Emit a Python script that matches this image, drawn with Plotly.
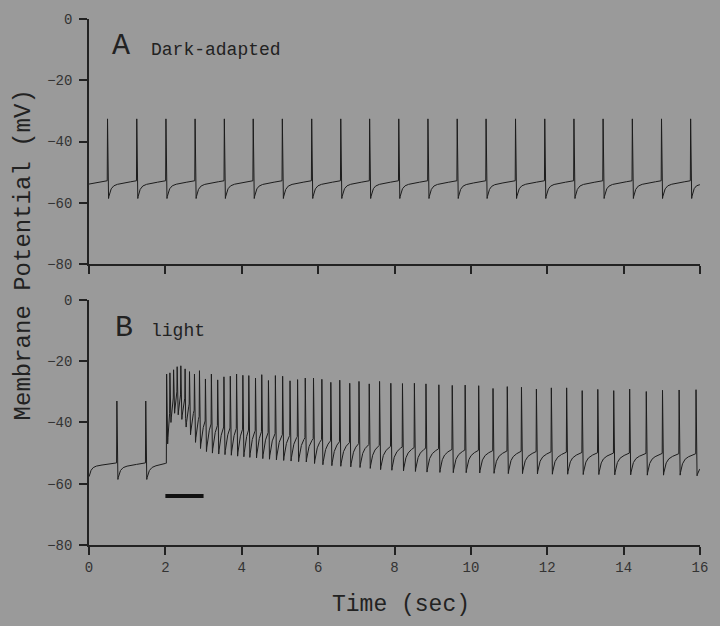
import numpy as np
import plotly.graph_objects as go

# ---------------- data ----------------
# Panel A (dark-adapted): spike times (s), peak (mV), trough (mV), pre-spike level (mV)
spike_t_A = [0.477, 1.243, 2.007, 2.770, 3.536, 4.292, 5.055, 5.824, 6.585, 7.341,
             8.104, 8.868, 9.634, 10.390, 11.161, 11.927, 12.691, 13.454, 14.220,
             14.984, 15.747]
peak_A = [-32.6] * 21
trough_A = [-58.6] * 21
thresh_A = [-52.8] * 21
start_A = [-0.26, -58.6]      # previous trough time/value before the record start

# Panel B (light)
spike_t_B = [0.722, 1.478,
             2.025, 2.111, 2.207, 2.301, 2.397, 2.509, 2.624, 2.754, 2.885, 3.041,
             3.197, 3.362, 3.526, 3.692, 3.857, 4.021, 4.177, 4.352,
             4.516, 4.691, 4.873, 5.063, 5.256, 5.454,
             5.655, 5.871, 6.090, 6.325, 6.559, 6.820, 7.062, 7.330, 7.601, 7.896,
             8.201, 8.513, 8.816, 9.154, 9.504, 9.842, 10.197, 10.572, 10.945,
             11.317, 11.708, 12.099, 12.500, 12.907, 13.316, 13.733, 14.150,
             14.585, 15.010, 15.445, 15.888]
peak_B = [-33.0, -33.0,
          -24.2, -23.8, -22.8, -21.8, -21.5, -22.5, -23.4, -24.2, -23.1, -25.8,
          -24.2, -26.1, -25.1, -24.9, -24.2, -24.6, -24.7, -25.5,
          -24.4, -26.3, -24.7, -24.9, -26.4, -26.0,
          -25.5, -25.5, -25.9, -26.9, -26.2, -27.2, -26.6, -27.4, -26.6, -27.2,
          -27.3, -27.2, -27.4, -27.7, -27.9, -27.8, -28.0, -28.9, -28.3, -28.5,
          -29.1, -28.7, -28.7, -29.6, -29.2, -29.6, -29.1, -29.9, -29.5, -29.4, -29.3]
trough_B = [-58.6, -58.6,
            -47.0, -40.0, -37.0, -37.5, -39.0, -41.5, -44.0, -46.5, -48.5, -49.5,
            -50.0, -50.3, -50.5, -50.7, -51.0, -51.2, -51.4, -51.6,
            -51.8, -52.0, -52.2, -52.4, -52.6, -52.8,
            -52.9, -53.4, -53.8, -54.1, -54.3, -54.5, -54.7, -55.0, -55.4, -55.6,
            -55.8, -56.0, -56.2, -56.3, -56.4, -56.4, -56.5, -56.6, -56.7, -56.7,
            -56.8, -56.9, -56.9, -57.0, -57.0, -57.1, -57.1, -57.2, -57.2, -57.2, -57.4]
thresh_B = [-53.2, -53.2,
            -53.3, -37.0, -32.0, -30.0, -31.0, -32.0, -34.0, -36.0, -38.0, -39.5,
            -40.5, -41.0, -41.5, -41.8, -42.0, -42.2, -42.5, -42.7,
            -43.0, -43.3, -43.6, -44.0, -44.3, -44.6,
            -45.0, -45.3, -45.6, -46.0, -46.3, -46.6, -46.9, -47.2, -47.5, -47.8,
            -48.0, -48.2, -48.4, -48.6, -48.8, -49.0, -49.1, -49.2, -49.3, -49.4,
            -49.5, -49.6, -49.7, -49.8, -49.9, -50.0, -50.0, -50.1, -50.1, -50.2, -50.2]
start_B = [0.0, -57.8]

end_level_A = -54.0
end_level_B = -54.4

# light stimulus bar
stim_t = [2.0, 3.0]
stim_v = [-64.0, -64.0]

x_ticks = [0, 2, 4, 6, 8, 10, 12, 14, 16]
y_ticks = [-80, -60, -40, -20, 0]


def trace(spk_t, peaks, troughs, thr, start, end_level, t_end=16.0):
    """Assemble membrane trace from the read spike parameters."""
    a, tau = 0.72, 0.055
    ts, vs = [], []

    def recovery(t0, v0, t1, v1):
        D = t1 - t0
        n = max(int(D / 0.002), 4)
        s = np.linspace(0, D, n + 1)[1:]
        f = a * (1 - np.exp(-s / tau)) / (1 - np.exp(-D / tau)) + (1 - a) * s / D
        return list(t0 + s), list(v0 + (v1 - v0) * f)

    prev_t, prev_v = start
    for i, t in enumerate(spk_t):
        rt, rv = recovery(prev_t, prev_v, t, thr[i])
        ts += rt
        vs += rv
        ts += [t + 0.008, t + 0.022, t + 0.035]
        vs += [peaks[i], troughs[i] + 0.15 * (peaks[i] - troughs[i]), troughs[i]]
        prev_t, prev_v = t + 0.035, troughs[i]
    # tail after the last spike
    D = t_end - prev_t
    s = np.linspace(0, D, max(int(D / 0.002), 4))[1:]
    f = 1 - np.exp(-s / tau)
    ts += list(prev_t + s)
    vs += list(prev_v + (end_level - prev_v) * f)
    ts, vs = np.array(ts), np.array(vs)
    keep = ts >= 0
    return ts[keep], vs[keep]


tA, vA = trace(spike_t_A, peak_A, trough_A, thresh_A, start_A, end_level_A)
tB, vB = trace(spike_t_B, peak_B, trough_B, thresh_B, start_B, end_level_B)

BG = "#9a9a9a"
INK = "#1c1c1c"
FONT = "Liberation Mono, Courier New, monospace"

fig = go.Figure()
fig.add_trace(go.Scatter(x=tA, y=vA, mode="lines", line=dict(color=INK, width=1),
                         xaxis="x", yaxis="y", showlegend=False, hoverinfo="skip"))
fig.add_trace(go.Scatter(x=tB, y=vB, mode="lines", line=dict(color=INK, width=1),
                         xaxis="x2", yaxis="y2", showlegend=False, hoverinfo="skip"))
fig.add_trace(go.Scatter(x=stim_t, y=stim_v, mode="lines", line=dict(color="#111111", width=4),
                         xaxis="x2", yaxis="y2", showlegend=False, hoverinfo="skip"))

axis_common = dict(range=[0, 16], tickvals=x_ticks, showline=True, linecolor="#222222",
                   linewidth=1.5, ticks="outside", ticklen=8, tickwidth=1.5, tickcolor="#222222",
                   showgrid=False, zeroline=False,
                   tickfont=dict(family=FONT, size=14, color="#333333"))
yaxis_common = dict(range=[-80, 0], tickvals=y_ticks, showline=True, linecolor="#222222",
                    linewidth=1.5, ticks="outside", ticklen=8, tickwidth=1.5, tickcolor="#222222",
                    showgrid=False, zeroline=False, ticklabelstandoff=4,
                    tickfont=dict(family=FONT, size=14, color="#333333"))

W, H = 720, 626
left, right, top, bottom = 89, 17, 17, 81
pw = W - left - right
ph = H - top - bottom
domA = [(545 - 263) / ph, 1.0]
domB = [0.0, (545 - 299) / ph]


def px_to_paper(px, py):
    return (px - left) / pw, 1 - (py - top) / ph


ylab_x, ylab_y = px_to_paper(23, 254)
xlab_x, xlab_y = px_to_paper(403, 605)

fig.update_layout(
    width=W, height=H,
    margin=dict(l=left, r=right, t=top, b=bottom),
    paper_bgcolor=BG, plot_bgcolor=BG,
    xaxis=dict(axis_common, anchor="y", showticklabels=False),
    yaxis=dict(yaxis_common, domain=domA, anchor="x"),
    xaxis2=dict(axis_common, anchor="y2"),
    yaxis2=dict(yaxis_common, domain=domB, anchor="x2"),
    showlegend=False,
    annotations=[
        dict(text="A", x=0.55, y=-8.8, xref="x", yref="y", xanchor="left", yanchor="middle",
             showarrow=False, font=dict(family=FONT, size=30, color="#222222")),
        dict(text="Dark-adapted", x=1.57, y=-10.0, xref="x", yref="y", xanchor="left",
             yanchor="middle", showarrow=False, font=dict(family=FONT, size=18, color="#222222")),
        dict(text="B", x=0.63, y=-9.3, xref="x2", yref="y2", xanchor="left", yanchor="middle",
             showarrow=False, font=dict(family=FONT, size=30, color="#222222")),
        dict(text="light", x=1.57, y=-10.0, xref="x2", yref="y2", xanchor="left",
             yanchor="middle", showarrow=False, font=dict(family=FONT, size=18, color="#222222")),
        dict(text="Membrane Potential (mV)", x=ylab_x, y=ylab_y, xref="paper",
             yref="paper", xanchor="center", yanchor="middle", textangle=-90, showarrow=False,
             font=dict(family=FONT, size=24, color="#222222")),
        dict(text="Time (sec)", x=xlab_x, y=xlab_y, xref="paper", yref="paper",
             xanchor="center", yanchor="middle", showarrow=False,
             font=dict(family=FONT, size=23, color="#222222")),
    ],
)

fig.write_html("out.html", config={"displayModeBar": False},
               post_script="document.body.style.margin='0';document.body.style.background='%s';" % BG)
